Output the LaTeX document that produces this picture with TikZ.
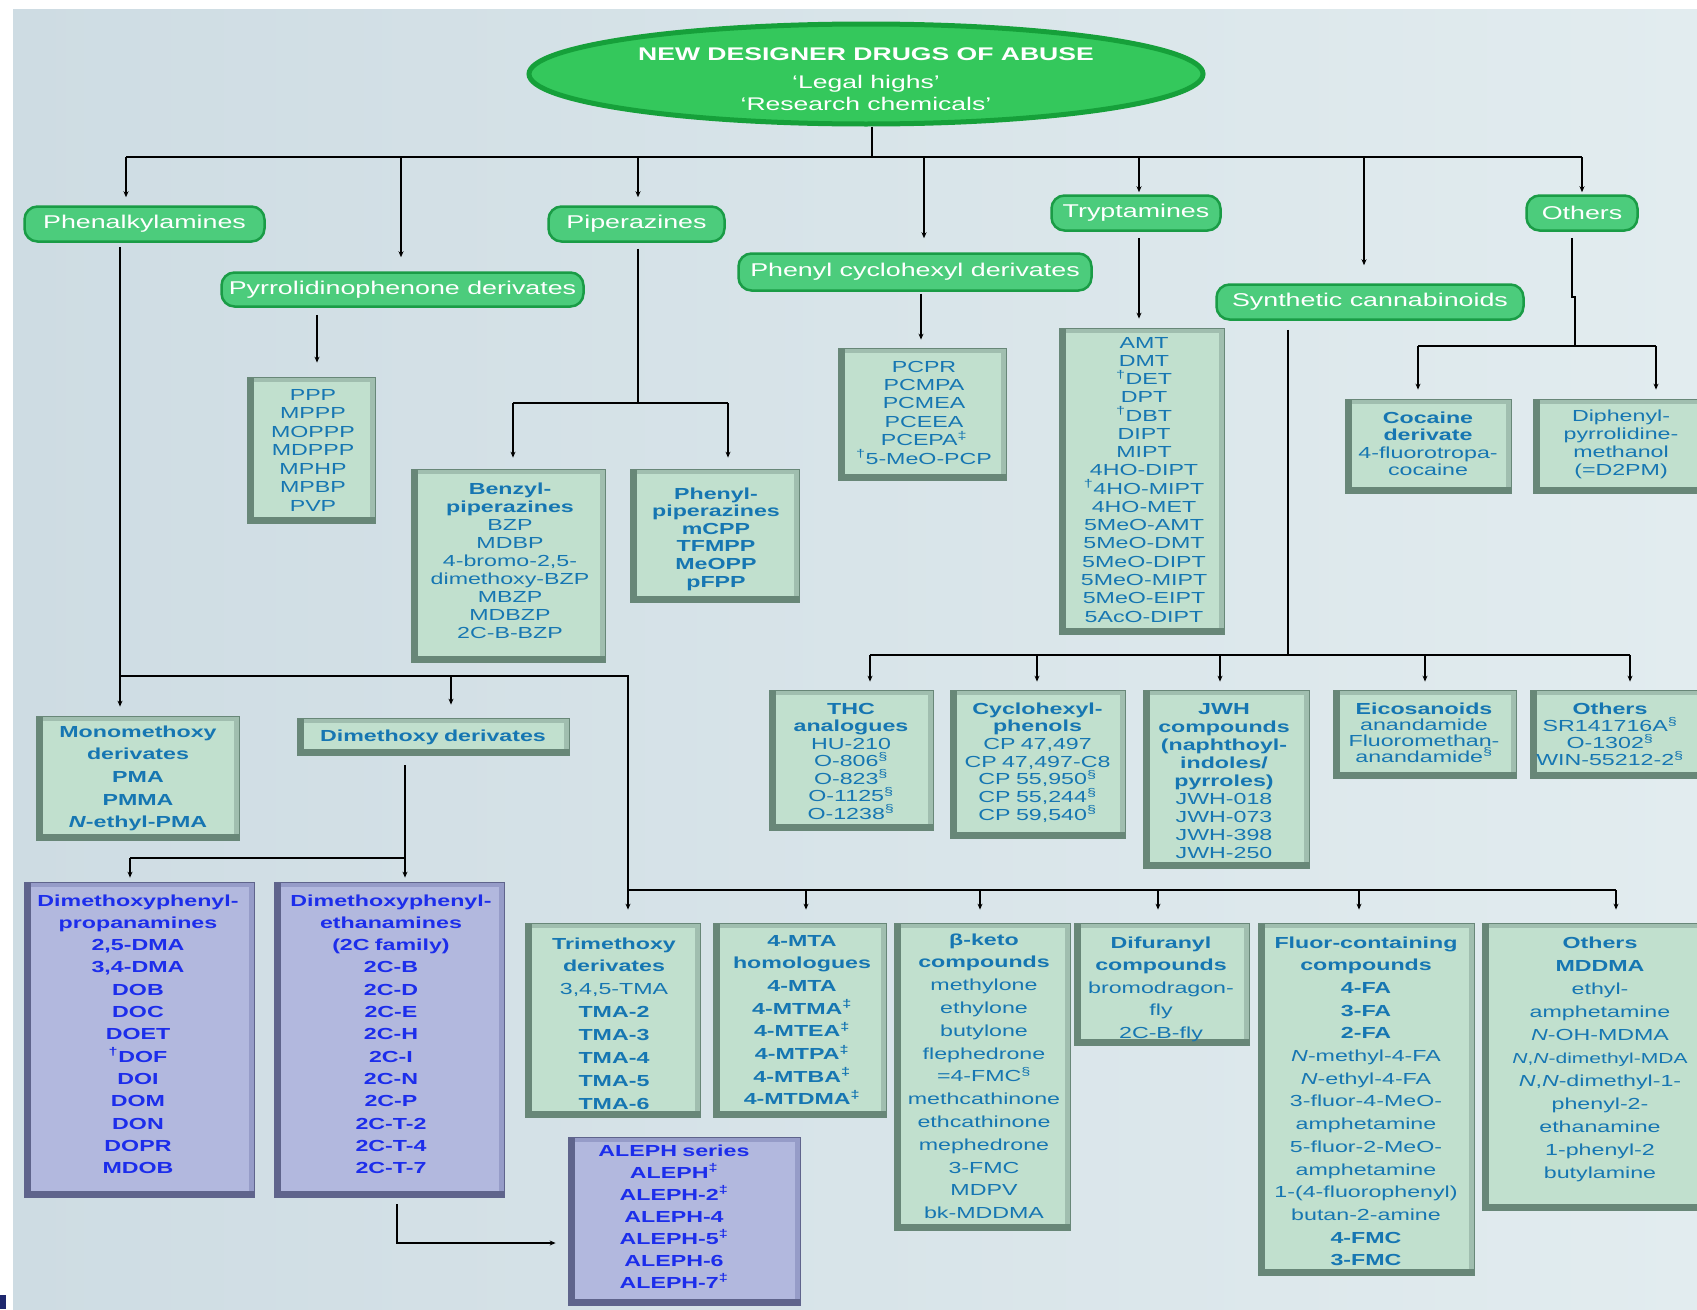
\documentclass[tikz,border=0pt]{standalone}
\usepackage{fontspec}
\setmainfont[FakeStretch=1.45]{Liberation Sans}
\usetikzlibrary{arrows.meta,shapes.geometric}
\definecolor{bgA}{RGB}{206,220,227}
\definecolor{bgB}{RGB}{226,236,239}
\definecolor{navymark}{RGB}{30,40,110}
\definecolor{elfill}{RGB}{52,200,92}
\definecolor{elbord}{RGB}{22,160,58}
\definecolor{pillfill}{RGB}{76,204,124}
\definecolor{pillbord}{RGB}{26,156,70}
\definecolor{gfill}{RGB}{193,224,206}
\definecolor{gdark}{RGB}{104,135,120}
\definecolor{glight}{RGB}{160,190,175}
\definecolor{bfill}{RGB}{178,184,222}
\definecolor{bdark}{RGB}{95,100,140}
\definecolor{blight}{RGB}{150,156,200}
\definecolor{listc}{RGB}{22,118,178}
\definecolor{bluetxt}{RGB}{28,45,235}
\newcommand\supd{\textsuperscript{†}}
\newcommand\supdd{\textsuperscript{‡}}
\newcommand\supsec{\textsuperscript{§}}
\newcommand\listbox[9]{%
  \node[#2frame, minimum width={#5-#3}, minimum height={#6-#4}] (#1) at ({(#3+#5)/2},{(#4+#6)/2}) {};
  \node[#2text, text width={#5-#3+60}, font=\fontsize{16}{#8}\selectfont, anchor=base] (#1-t) at (#7) {#9};
}
\tikzset{
  ln/.style={line width=1.8pt, black},
  arr/.style={line width=1.8pt, black, -{Stealth[length=6pt,width=5pt]}},
  pill/.style={rectangle, rounded corners=13pt, fill=pillfill, draw=pillbord, line width=2.5pt,
    text=white, font=\fontsize{18.5}{20}\selectfont, inner sep=0},
  gframe/.style={rectangle, fill=gfill, inner sep=0, draw=gdark, line width=0.8pt,
    path picture={
      \fill[glight] (path picture bounding box.north west) rectangle ([yshift=-5pt]path picture bounding box.north east);
      \fill[glight] (path picture bounding box.north east) rectangle ([xshift=-5pt]path picture bounding box.south east);
      \fill[gdark] (path picture bounding box.north west) rectangle ([xshift=7pt]path picture bounding box.south west);
      \fill[gdark] (path picture bounding box.south west) rectangle ([yshift=6pt]path picture bounding box.south east);
    }},
  bframe/.style={rectangle, fill=bfill, inner sep=0, draw=bdark, line width=0.8pt,
    path picture={
      \fill[blight] (path picture bounding box.north west) rectangle ([yshift=-5pt]path picture bounding box.north east);
      \fill[blight] (path picture bounding box.north east) rectangle ([xshift=-5pt]path picture bounding box.south east);
      \fill[bdark] (path picture bounding box.north west) rectangle ([xshift=7pt]path picture bounding box.south west);
      \fill[bdark] (path picture bounding box.south west) rectangle ([yshift=6pt]path picture bounding box.south east);
    }},
  gtext/.style={text=listc, align=center, inner sep=0},
  btext/.style={text=bluetxt, align=center, inner sep=0},
  ttext/.style={text=white, font=\fontsize{18.3}{20}\selectfont, inner sep=0, anchor=base}
}
\begin{document}
\begin{tikzpicture}[x=1pt,y=-1pt]
\useasboundingbox (0,0) rectangle (1697,1309);
\fill[white] (0,0) rectangle (1697,1309);
\shade[left color=bgA, right color=bgB] (13,9) rectangle (1697,1309);
\fill[navymark] (0,1295) rectangle (6,1309);

% title
\node[ellipse, fill=elfill, draw=elbord, line width=5pt, minimum width=674pt, minimum height=100pt, inner sep=0] (title) at (866,74) {};
\node[ttext] (title-a) at (866,60) {\bfseries NEW DESIGNER DRUGS OF ABUSE};
\node[ttext] (title-b) at (866,88) {‘Legal highs’};
\node[ttext] (title-c) at (866,110) {‘Research chemicals’};

% pills
\node[pill, minimum width=240pt, minimum height=35pt] (phen) at (144.5,224) {Phenalkylamines};
\node[pill, minimum width=362pt, minimum height=34pt] (pyrr) at (402.5,289.5) {Pyrrolidinophenone derivates};
\node[pill, minimum width=176pt, minimum height=35pt] (pip) at (636.5,224) {Piperazines};
\node[pill, minimum width=353pt, minimum height=37pt] (pcp) at (915,272) {Phenyl cyclohexyl derivates};
\node[pill, minimum width=169pt, minimum height=35pt] (tryp) at (1136,213) {Tryptamines};
\node[pill, minimum width=307pt, minimum height=35pt] (syn) at (1370,302) {Synthetic cannabinoids};
\node[pill, minimum width=111pt, minimum height=35pt] (oth) at (1582,213) {Others};

% boxes
\listbox{ppp}{g}{247}{377}{375}{523}{313,400}{18.5}{PPP\\MPPP\\MOPPP\\MDPPP\\MPHP\\MPBP\\PVP}
\listbox{bzp}{g}{411}{469}{605}{662}{510,494}{18}{\textbf{Benzyl-}\\\textbf{piperazines}\\BZP\\MDBP\\4-bromo-2,5-\\dimethoxy-BZP\\MBZP\\MDBZP\\2C-B-BZP}
\listbox{php}{g}{630}{469}{799}{602}{716,499}{17.6}{\bfseries Phenyl-\\piperazines\\mCPP\\TFMPP\\MeOPP\\pFPP}
\listbox{pcpl}{g}{838}{348}{1006}{480}{924,372}{18.4}{PCPR\\PCMPA\\PCMEA\\PCEEA\\PCEPA\supdd\\\supd5-MeO-PCP}
\listbox{trl}{g}{1059}{328}{1224}{634}{1144,348}{18.27}{AMT\\DMT\\\supd DET\\DPT\\\supd DBT\\DIPT\\MIPT\\4HO-DIPT\\\supd 4HO-MIPT\\4HO-MET\\5MeO-AMT\\5MeO-DMT\\5MeO-DIPT\\5MeO-MIPT\\5MeO-EIPT\\5AcO-DIPT}
\listbox{coc}{g}{1345}{399}{1511}{493}{1428,423}{17.5}{\textbf{Cocaine}\\\textbf{derivate}\\4-fluorotropa-\\cocaine}
\listbox{dpm}{g}{1533}{399}{1709}{493}{1621,421}{18}{Diphenyl-\\pyrrolidine-\\methanol\\(=D2PM)}
\listbox{thc}{g}{769}{690}{933}{830}{851,714}{17.5}{\textbf{THC}\\\textbf{analogues}\\HU-210\\O-806\supsec\\O-823\supsec\\O-1125\supsec\\O-1238\supsec}
\listbox{cyc}{g}{950}{690}{1125}{838}{1037.5,714}{17.7}{\textbf{Cyclohexyl-}\\\textbf{phenols}\\CP 47,497\\CP 47,497-C8\\CP 55,950\supsec\\CP 55,244\supsec\\CP 59,540\supsec}
\listbox{jwh}{g}{1143}{690}{1309}{868}{1224,714}{18.1}{\textbf{JWH}\\\textbf{compounds}\\\textbf{(naphthoyl-}\\\textbf{indoles/}\\\textbf{pyrroles)}\\JWH-018\\JWH-073\\JWH-398\\JWH-250}
\listbox{eic}{g}{1333}{690}{1516}{778}{1424,714}{16}{\textbf{Eicosanoids}\\anandamide\\Fluoromethan-\\anandamide\supsec}
\listbox{oc}{g}{1530}{690}{1710}{778}{1610,714}{17.3}{\textbf{Others}\\SR141716A\supsec\\O-1302\supsec\\WIN-55212-2\supsec}
\listbox{mono}{g}{36}{716}{239}{840}{138,737}{22.7}{\bfseries Monomethoxy\\derivates\\PMA\\PMMA\\\textit{N}-ethyl-PMA}
\listbox{dim}{g}{297}{718}{569}{755}{433,741}{20}{\bfseries Dimethoxy derivates}
\listbox{dma}{b}{24}{882}{254}{1197}{138,906}{22.3}{\bfseries Dimethoxyphenyl-\\propanamines\\2,5-DMA\\3,4-DMA\\DOB\\DOC\\DOET\\\supd DOF\\DOI\\DOM\\DON\\DOPR\\MDOB}
\listbox{tc}{b}{274}{882}{504}{1197}{391,906}{22.3}{\bfseries Dimethoxyphenyl-\\ethanamines\\(2C family)\\2C-B\\2C-D\\2C-E\\2C-H\\2C-I\\2C-N\\2C-P\\2C-T-2\\2C-T-4\\2C-T-7}
\listbox{aleph}{b}{568}{1137}{800}{1305}{674,1156}{22}{\bfseries ALEPH series\\ALEPH\supdd\\ALEPH-2\supdd\\ALEPH-4\\ALEPH-5\supdd\\ALEPH-6\\ALEPH-7\supdd}
\listbox{tri}{g}{525}{923}{700}{1117}{614,949}{22.9}{\textbf{Trimethoxy}\\\textbf{derivates}\\3,4,5-TMA\\\textbf{TMA-2}\\\textbf{TMA-3}\\\textbf{TMA-4}\\\textbf{TMA-5}\\\textbf{TMA-6}}
\listbox{mta}{g}{713}{923}{886}{1117}{802,946}{22.7}{\bfseries 4-MTA\\homologues\\4-MTA\\4-MTMA\supdd\\4-MTEA\supdd\\4-MTPA\supdd\\4-MTBA\supdd\\4-MTDMA\supdd}
\listbox{bk}{g}{894}{923}{1070}{1230}{984,945}{22.8}{\textbf{β-keto}\\\textbf{compounds}\\methylone\\ethylone\\butylone\\flephedrone\\=4-FMC\supsec\\methcathinone\\ethcathinone\\mephedrone\\3-FMC\\MDPV\\bk-MDDMA}
\listbox{dif}{g}{1074}{923}{1249}{1045}{1161,948}{22.5}{\textbf{Difuranyl}\\\textbf{compounds}\\bromodragon-\\fly\\2C-B-fly}
\listbox{flu}{g}{1258}{923}{1474}{1275}{1366,948}{22.7}{\textbf{Fluor-containing}\\\textbf{compounds}\\\textbf{4-FA}\\\textbf{3-FA}\\\textbf{2-FA}\\\textit{N}-methyl-4-FA\\\textit{N}-ethyl-4-FA\\3-fluor-4-MeO-\\amphetamine\\5-fluor-2-MeO-\\amphetamine\\1-(4-fluorophenyl)\\butan-2-amine\\\textbf{4-FMC}\\\textbf{3-FMC}}
\listbox{ob}{g}{1482}{923}{1730}{1210}{1600,948}{23}{\textbf{Others}\\\textbf{MDDMA}\\ethyl-\\amphetamine\\\textit{N}-OH-MDMA\\{\fontsize{14.5}{23}\selectfont\textit{N},\textit{N}-dimethyl-MDA}\\\textit{N},\textit{N}-dimethyl-1-\\phenyl-2-\\ethanamine\\1-phenyl-2\\butylamine}

% top bus
\coordinate (tbM) at (872,157);
\coordinate (t1) at (126,157);
\coordinate (t2) at (401,157);
\coordinate (t3) at (638,157);
\coordinate (t4) at (924,157);
\coordinate (t5) at (1139,157);
\coordinate (t6) at (1364,157);
\coordinate (t7) at (1582,157);
\draw[ln] (tbM |- title.south) -- (tbM);
\draw[ln] (t1) -- (t7);
\draw[arr, shorten >=8pt] (t1) -- (t1 |- phen.north);
\draw[arr, shorten >=14pt] (t2) -- (t2 |- pyrr.north);
\draw[arr, shorten >=8pt] (t3) -- (t3 |- pip.north);
\draw[arr, shorten >=14pt] (t4) -- (t4 |- pcp.north);
\draw[arr, shorten >=2pt] (t5) -- (t5 |- tryp.north);
\draw[arr, shorten >=18pt] (t6) -- (t6 |- syn.north);
\draw[arr, shorten >=2pt] (t7) -- (t7 |- oth.north);

% pyrrolidinophenones
\coordinate (py) at (317,0);
\draw[arr, shorten <=7pt, shorten >=14pt] (py |- pyrr.south) -- (py |- ppp.north);

% piperazines
\coordinate (pj) at (638,403);
\coordinate (pjL) at (513,403);
\coordinate (pjR) at (728,403);
\draw[ln, shorten <=6pt] (pj |- pip.south) -- (pj);
\draw[ln] (pjL) -- (pjR);
\draw[arr, shorten >=11pt] (pjL) -- (pjL |- bzp.north);
\draw[arr, shorten >=11pt] (pjR) -- (pjR |- php.north);

% phenyl cyclohexyl
\coordinate (pcx) at (921,0);
\draw[arr, shorten <=2pt, shorten >=8pt] (pcx |- pcp.south) -- (pcx |- pcpl.north);

% tryptamines
\coordinate (tx) at (1139,0);
\draw[arr, shorten <=6pt, shorten >=9pt] (tx |- tryp.south) -- (tx |- trl.north);

% synthetic cannabinoids
\coordinate (sa) at (1288,655);
\coordinate (s1) at (870,655);
\coordinate (s2) at (1037,655);
\coordinate (s3) at (1220,655);
\coordinate (s4) at (1425,655);
\coordinate (s5) at (1630,655);
\draw[ln, shorten <=9pt] (sa |- syn.south) -- (sa);
\draw[ln] (s1) -- (s5);
\draw[arr, shorten >=8pt] (s1) -- (s1 |- thc.north);
\draw[arr, shorten >=8pt] (s2) -- (s2 |- cyc.north);
\draw[arr, shorten >=8pt] (s3) -- (s3 |- jwh.north);
\draw[arr, shorten >=8pt] (s4) -- (s4 |- eic.north);
\draw[arr, shorten >=8pt] (s5) -- (s5 |- oc.north);

% others (top)
\coordinate (oa) at (1572,297);
\coordinate (ob2) at (1575,297);
\coordinate (oc2) at (1575,346);
\coordinate (oL) at (1418,346);
\coordinate (oR) at (1656,346);
\draw[ln, shorten <=6pt] (oa |- oth.south) -- (oa) -- (ob2) -- (oc2);
\draw[ln] (oL) -- (oR);
\draw[arr, shorten >=9pt] (oL) -- (oL |- coc.north);
\draw[arr, shorten >=9pt] (oR) -- (oR |- dpm.north);

% phenalkylamines tree
\coordinate (pa) at (120,676);
\coordinate (pc) at (451,676);
\coordinate (pb) at (628,676);
\coordinate (pd) at (628,890);
\coordinate (b2) at (806,890);
\coordinate (b3) at (980,890);
\coordinate (b4) at (1158,890);
\coordinate (b5) at (1359,890);
\coordinate (b6) at (1616,890);
\draw[ln, shorten <=4pt] (pa |- phen.south) -- (pa) -- (pb) -- (pd);
\draw[ln] (pd) -- (b6);
\draw[arr, shorten >=9pt] (pa) -- (pa |- mono.north);
\draw[arr, shorten >=13pt] (pc) -- (pc |- dim.north);
\draw[arr, shorten >=13pt] (pd) -- (pd |- tri.north);
\draw[arr, shorten >=13pt] (b2) -- (b2 |- mta.north);
\draw[arr, shorten >=13pt] (b3) -- (b3 |- bk.north);
\draw[arr, shorten >=13pt] (b4) -- (b4 |- dif.north);
\draw[arr, shorten >=13pt] (b5) -- (b5 |- flu.north);
\draw[arr, shorten >=13pt] (b6) -- (b6 |- ob.north);

% dimethoxy
\coordinate (da) at (405,858);
\coordinate (db) at (130,858);
\draw[ln, shorten <=10pt] (da |- dim.south) -- (da);
\draw[ln] (da) -- (db);
\draw[arr, shorten >=4pt] (db) -- (db |- dma.north);
\draw[arr, shorten >=4pt] (da) -- (da |- tc.north);

% 2C -> ALEPH
\coordinate (alc) at (397,1243);
\draw[arr, shorten <=7pt, shorten >=12pt] (alc |- tc.south) -- (alc) -- (alc -| aleph.west);
\end{tikzpicture}
\end{document}
